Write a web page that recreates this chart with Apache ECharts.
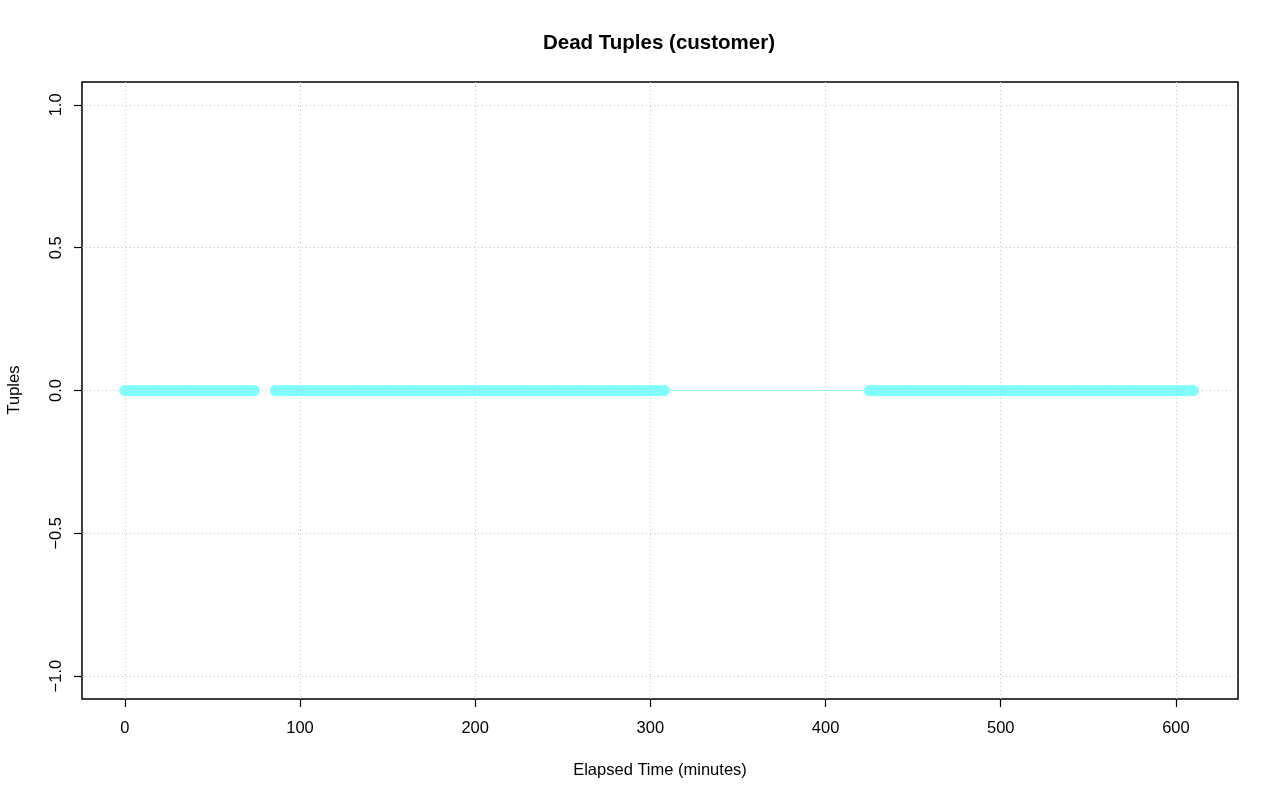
<!DOCTYPE html>
<html>
<head>
<meta charset="utf-8">
<script src="https://cdn.jsdelivr.net/npm/echarts@6/dist/echarts.min.js"></script>
<style>
html,body{margin:0;padding:0;background:#fff;}
#chart{width:1280px;height:801px;}
</style>
</head>
<body>
<div id="chart"></div>
<script>
// Sample times (minutes); the gap between segments 1 and 2 is a break (missing sample)
const segment1Minutes = [0,2,4,6,8,10,12,14,16,18,20,22,24,26,28,30,32,34,36,38,40,42,44,46,48,50,52,54,56,58,60,62,64,66,68,70,72,74];
const segment2Minutes = [86,88,90,92,94,96,98,100,102,104,
  106,108,110,112,114,116,118,120,122,124,
  126,128,130,132,134,136,138,140,142,144,
  146,148,150,152,154,156,158,160,162,164,
  166,168,170,172,174,176,178,180,182,184,
  186,188,190,192,194,196,198,200,202,204,
  206,208,210,212,214,216,218,220,222,224,
  226,228,230,232,234,236,238,240,242,244,
  246,248,250,252,254,256,258,260,262,264,
  266,268,270,272,274,276,278,280,282,284,
  286,288,290,292,294,296,298,300,302,304,
  306,308];
const segment3Minutes = [425,427,429,431,433,435,437,439,441,443,
  445,447,449,451,453,455,457,459,461,463,
  465,467,469,471,473,475,477,479,481,483,
  485,487,489,491,493,495,497,499,501,503,
  505,507,509,511,513,515,517,519,521,523,
  525,527,529,531,533,535,537,539,541,543,
  545,547,549,551,553,555,557,559,561,563,
  565,567,569,571,573,575,577,579,581,583,
  585,587,589,591,593,595,597,599,601,603,
  605,607,609,610];
const deadTuplesValue = 0; // every sample reads 0 dead tuples
const breakMinute = 80;    // missing sample between segment 1 and 2

const xTicks = [0,100,200,300,400,500,600];
const yTicks = [-1.0,-0.5,0.0,0.5,1.0];
const titleText = 'Dead Tuples (customer)';
const xLabel = 'Elapsed Time (minutes)';
const yLabel = 'Tuples';

const data = [];
segment1Minutes.forEach(t => data.push([t, deadTuplesValue]));
data.push([breakMinute, null]);
segment2Minutes.forEach(t => data.push([t, deadTuplesValue]));
segment3Minutes.forEach(t => data.push([t, deadTuplesValue]));

const FONT = 'Liberation Sans, Arial, Helvetica, sans-serif';
const gridStyle = {color:'#c0c0c0', width:1, type:[1,3]};

const chart = echarts.init(document.getElementById('chart'), null, {renderer:'canvas'});
chart.setOption({
  animation:false,
  backgroundColor:'#ffffff',
  graphic:[
    {type:'text', x:659, y:43, style:{text:titleText, align:'center', verticalAlign:'middle',
      font:'bold 20.5px '+FONT, fill:'#000'}},
    {type:'text', x:660, y:770, style:{text:xLabel, align:'center', verticalAlign:'middle',
      font:'16.5px '+FONT, fill:'#000'}},
    {type:'text', rotation:Math.PI/2, x:14, y:390, style:{text:yLabel, align:'center', verticalAlign:'middle',
      font:'16.5px '+FONT, fill:'#000'}}
  ],
  grid:{left:82, right:42, top:82, bottom:102, show:true, borderColor:'#000', borderWidth:1.5, backgroundColor:'transparent'},
  xAxis:{
    type:'value', min:-24.44, max:635.44, position:'bottom',
    axisLine:{show:false, onZero:false},
    splitLine:{show:false},
    axisTick:{show:true, inside:false, length:8, lineStyle:{color:'#000', width:1.2}, customValues:xTicks},
    axisLabel:{show:true, margin:21, fontFamily:FONT, fontSize:16.5, color:'#000', customValues:xTicks,
      formatter:v=>String(v)}
  },
  yAxis:{
    type:'value', min:-1.08, max:1.08, position:'left',
    axisLine:{show:false, onZero:false},
    splitLine:{show:false},
    axisTick:{show:true, inside:false, length:8, lineStyle:{color:'#000', width:1.2}, customValues:yTicks},
    axisLabel:{show:true, margin:17, rotate:90, fontFamily:FONT, fontSize:16.5, color:'#000', customValues:yTicks,
      formatter:v=>v.toFixed(1).replace('-', '\u2212')}
  },
  series:[
    {
      type:'line', name:'grid', data:[], silent:true,
      markLine:{
        silent:true, symbol:'none', label:{show:false}, animation:false,
        lineStyle:gridStyle,
        data:[
          ...xTicks.map(v=>({xAxis:v})),
          ...yTicks.map(v=>({yAxis:v}))
        ]
      }
    },
    {
      type:'line', name:'dead tuples', data:data, connectNulls:false,
      symbol:'circle', symbolSize:11, showSymbol:true, showAllSymbol:true,
      itemStyle:{color:'#80ffff', borderWidth:0},
      lineStyle:{color:'#80ffff', width:1.2},
      z:3
    }
  ]
});
</script>
</body>
</html>
